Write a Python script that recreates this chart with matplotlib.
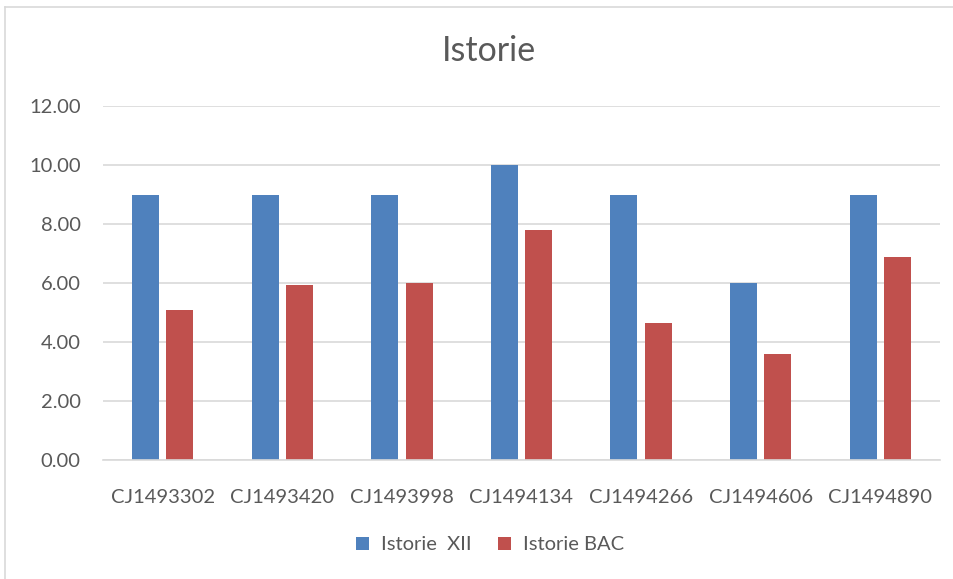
from matplotlib import pyplot as plt
from matplotlib.lines import Line2D
import numpy as np

categories = ['CJ1493302', 'CJ1493420', 'CJ1493998', 'CJ1494134',
              'CJ1494266', 'CJ1494606', 'CJ1494890']
istorie_xii = [9, 9, 9, 10, 9, 6, 9]
istorie_bac = [5.10, 5.95, 6.00, 7.80, 4.65, 3.60, 6.90]
y_ticks = [0, 2, 4, 6, 8, 10, 12]

plt.rcParams['font.family'] = ['Lato', 'DejaVu Sans']
text_color = '#595959'

fig = plt.figure(figsize=(9.54, 5.79), dpi=100)
ax = fig.add_axes([103 / 954, 1 - 460.3 / 579, 837 / 954, 354 / 579])

x = np.arange(len(categories))
ax.bar(x - 0.143, istorie_xii, width=0.226, color='#4F81BD', label='Istorie  XII')
ax.bar(x + 0.143, istorie_bac, width=0.226, color='#C0504D', label='Istorie BAC')

ax.set_xlim(-0.5, len(categories) - 0.5)
ax.set_ylim(0, 12)
ax.set_yticks(y_ticks)
ax.set_yticklabels(['%.2f' % v for v in y_ticks])
ax.set_xticks(x)
ax.set_xticklabels(categories)
ax.tick_params(axis='both', length=0, labelsize=14.5, colors=text_color)
ax.tick_params(axis='y', pad=16)
ax.tick_params(axis='x', pad=21)
ax.yaxis.grid(True, color='#d9d9d9', lw=1.2)
ax.set_axisbelow(True)
for side in ['top', 'right', 'left']:
    ax.spines[side].set_visible(False)
ax.spines['bottom'].set_color('#d9d9d9')
ax.spines['bottom'].set_linewidth(1.2)

fig.text(489 / 954, 1 - 51 / 579, 'Istorie', ha='center', va='center',
         fontsize=24.5, color=text_color)

fig.legend(loc='center', bbox_to_anchor=(490 / 954, 1 - 545 / 579), ncol=2,
           frameon=False, fontsize=14.5, labelcolor=text_color,
           handlelength=0.65, handleheight=0.65, handletextpad=0.6,
           columnspacing=1.3)

# chart area border (top and left visible)
fig.add_artist(Line2D([5 / 954, 5 / 954], [0, 1 - 7 / 579], color='#d9d9d9', lw=1.2))
fig.add_artist(Line2D([5 / 954, 1], [1 - 7 / 579, 1 - 7 / 579], color='#d9d9d9', lw=1.2))

fig.savefig('out.png', dpi=100)
